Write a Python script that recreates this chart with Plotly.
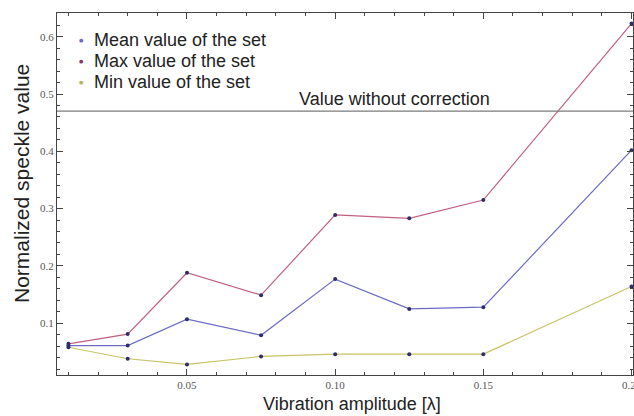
import plotly.graph_objects as go

amplitude = [0.01, 0.03, 0.05, 0.075, 0.10, 0.125, 0.15, 0.20]
mean_vals = [0.061, 0.061, 0.107, 0.079, 0.177, 0.125, 0.128, 0.402]
max_vals = [0.064, 0.081, 0.188, 0.149, 0.289, 0.283, 0.315, 0.623]
min_vals = [0.058, 0.038, 0.028, 0.042, 0.046, 0.046, 0.046, 0.164]
reference_value = 0.47

series_names = ["Mean value of the set", "Max value of the set", "Min value of the set"]
line_colors = {"mean": "#6b6bc6", "max": "#c2607e", "min": "#c8c465"}
legend_dot_colors = ["#6b6bc6", "#8a3a5e", "#b8b460"]
marker_color = "#2c2c6e"

sans = "Liberation Sans, Arial, sans-serif"

fig = go.Figure()
for vals, key in [(max_vals, "max"), (mean_vals, "mean"), (min_vals, "min")]:
    fig.add_trace(go.Scatter(
        x=amplitude, y=vals, mode="lines+markers",
        line=dict(color=line_colors[key], width=1.2),
        marker=dict(color=marker_color, size=4),
        showlegend=False, cliponaxis=False))

fig.add_hline(y=reference_value, line=dict(color="#7a7a7a", width=1.2))
fig.add_annotation(x=0.12, y=reference_value, xref="x", yref="y",
                   text="Value without correction", showarrow=False,
                   yanchor="bottom", yshift=0,
                   font=dict(family=sans, size=18, color="#222222"))

# legend drawn as annotations (compact line spacing like the reference)
legend_rows_y = [0.9254, 0.8674, 0.8094]
for name, col, yy in zip(series_names, legend_dot_colors, legend_rows_y):
    fig.add_annotation(x=0.0434, y=yy, xref="paper", yref="paper", text="●",
                       showarrow=False, xanchor="center", yanchor="middle",
                       font=dict(family="DejaVu Sans", size=5, color=col))
    fig.add_annotation(x=0.0608, y=yy, xref="paper", yref="paper", text=name,
                       showarrow=False, xanchor="left", yanchor="middle",
                       font=dict(family=sans, size=18, color="#222222"))

# axis titles
fig.add_annotation(x=0.512, y=0, xref="paper", yref="paper",
                   text="Vibration amplitude [λ]", showarrow=False,
                   xanchor="center", yanchor="middle", yshift=-29,
                   font=dict(family=sans, size=18, color="#222222"))
fig.add_annotation(x=0, y=0.5276, xref="paper", yref="paper",
                   text="Normalized speckle value", showarrow=False, textangle=-90,
                   xanchor="center", yanchor="middle", xshift=-36,
                   font=dict(family=sans, size=21, color="#222222"))

axis_font = dict(family="Liberation Serif, Times New Roman, serif", size=11, color="#555555")
fig.update_xaxes(
    range=[0.00614, 0.2005], tickmode="array",
    tickvals=[0.05, 0.10, 0.15, 0.20], ticktext=["0.05", "0.10", "0.15", "0.20"],
    ticks="inside", ticklen=6, tickcolor="#444444", tickwidth=1,
    minor=dict(dtick=0.01, tick0=0, ticks="inside", ticklen=3, tickcolor="#444444"),
    showline=True, linecolor="#444444", linewidth=1.2, mirror="ticks",
    showgrid=False, zeroline=False, tickfont=axis_font, automargin=False,
    ticklabeloverflow="allow")
fig.update_yaxes(
    range=[0.0096, 0.6414], tickmode="array",
    tickvals=[0.1, 0.2, 0.3, 0.4, 0.5, 0.6], ticktext=["0.1", "0.2", "0.3", "0.4", "0.5", "0.6"],
    ticks="inside", ticklen=6, tickcolor="#444444", tickwidth=1,
    minor=dict(dtick=0.02, tick0=0, ticks="inside", ticklen=3, tickcolor="#444444"),
    showline=True, linecolor="#444444", linewidth=1.2, mirror="ticks",
    showgrid=False, zeroline=False, tickfont=axis_font, automargin=False)

fig.update_layout(
    width=634, height=416,
    margin=dict(l=57, r=1, t=13, b=41),
    plot_bgcolor="white", paper_bgcolor="white",
    showlegend=False)

# remove the default page margin so the figure fills the window exactly
fig.write_html("out.html",
               config={"displayModeBar": False},
               post_script="document.body.style.margin='0px';document.body.style.overflow='hidden';")
